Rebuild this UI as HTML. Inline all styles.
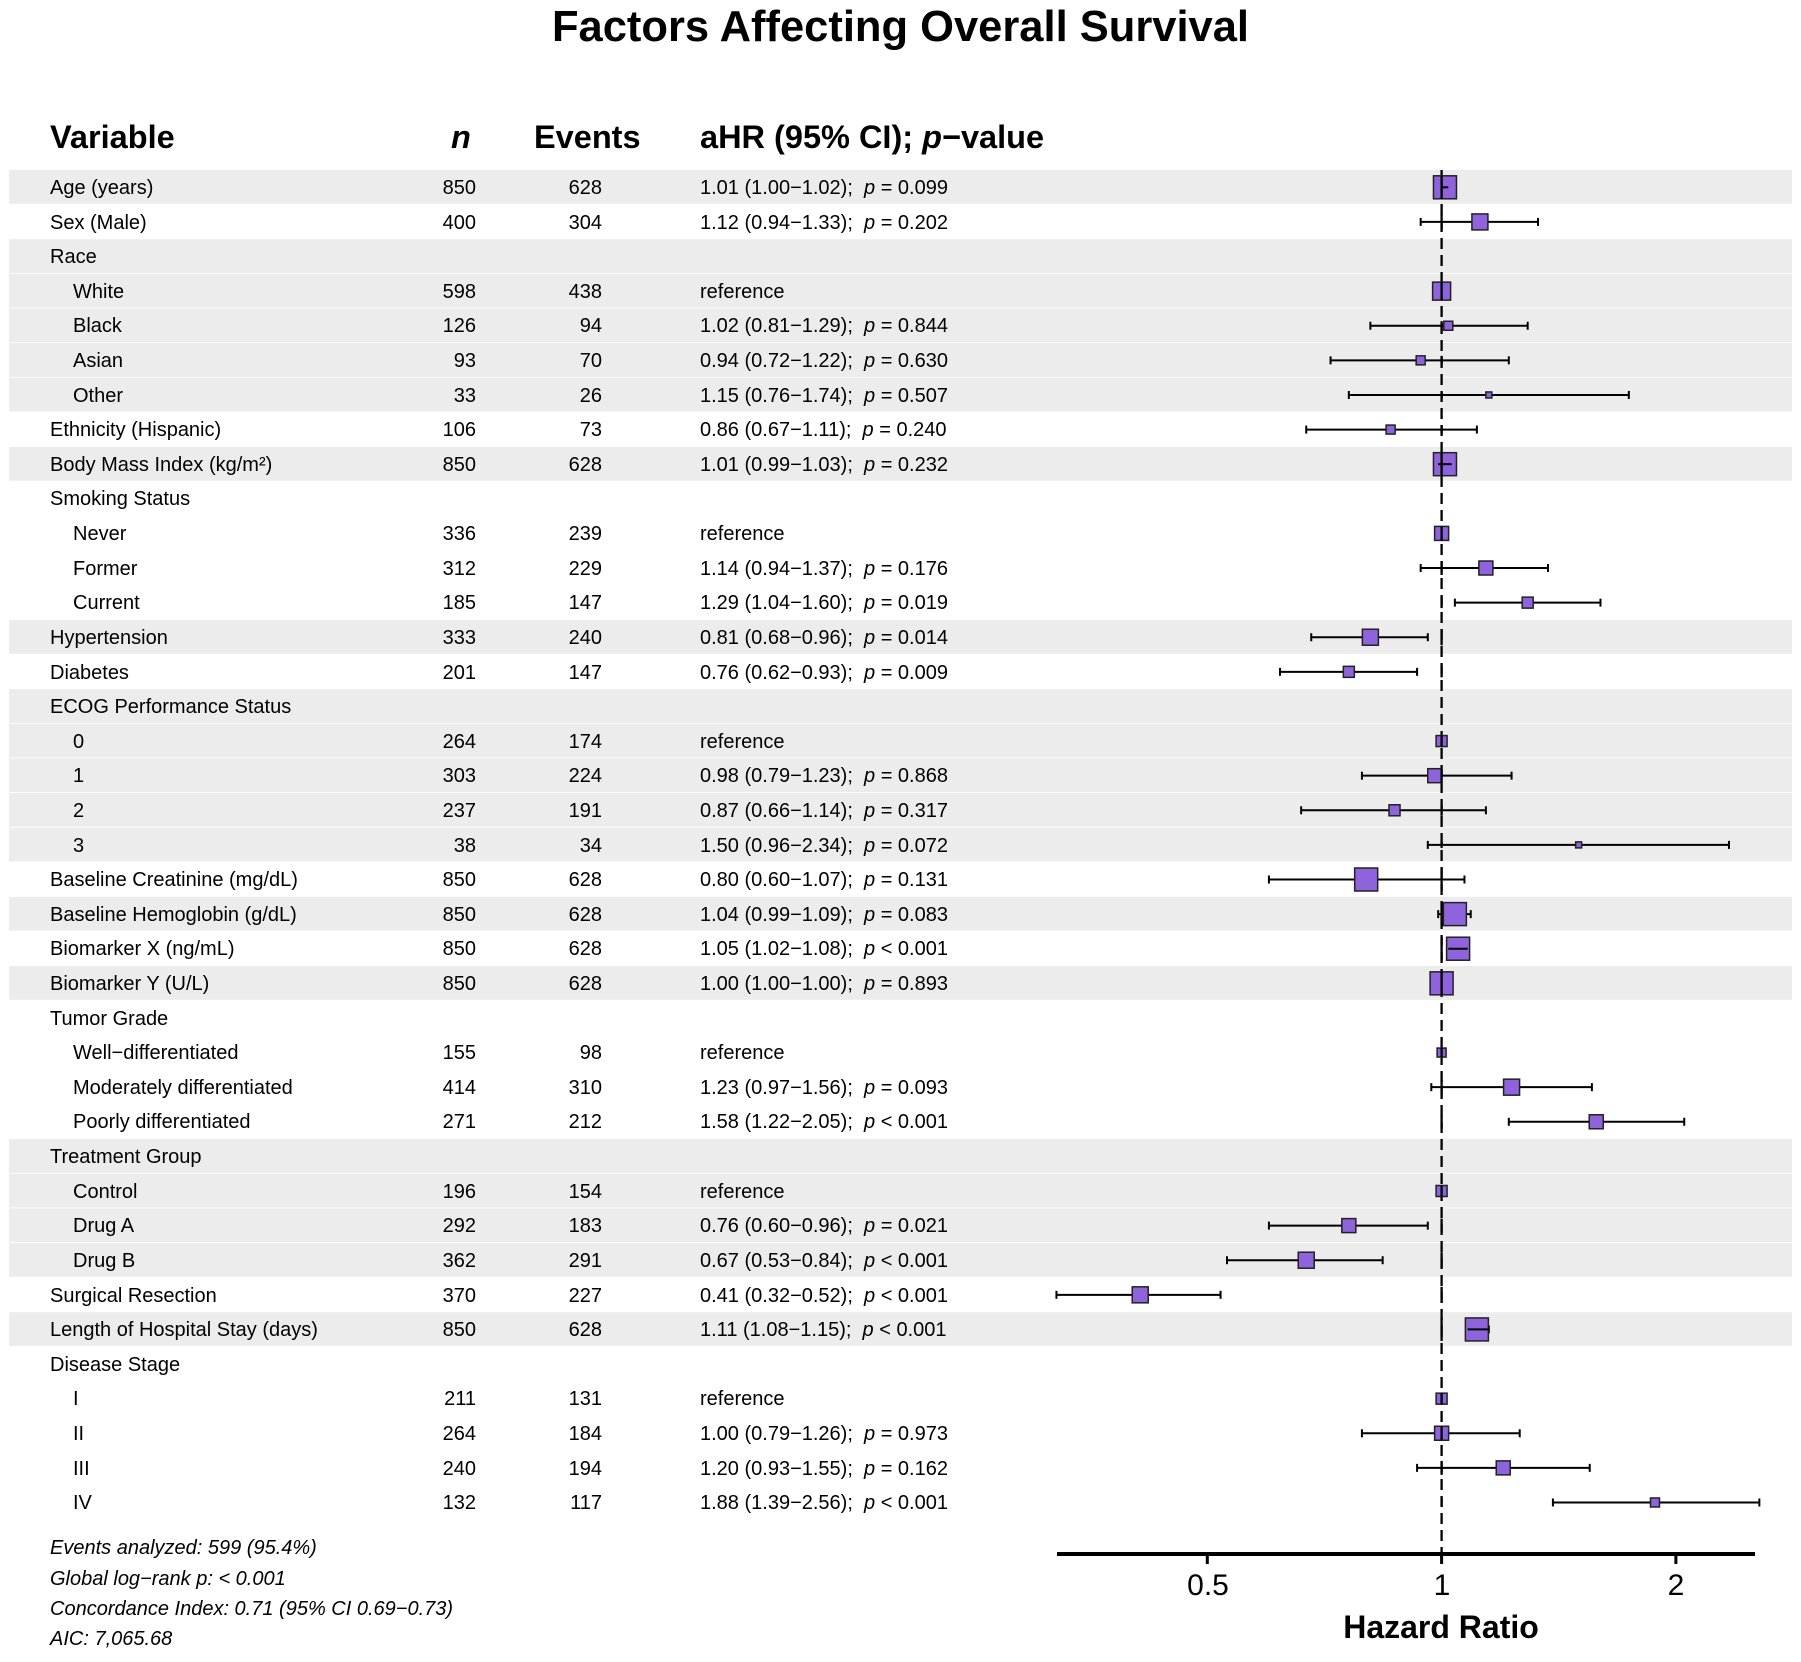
<!DOCTYPE html>
<html><head><meta charset="utf-8"><style>
body{margin:0;width:1801px;height:1662px;background:#fff;position:relative;overflow:hidden;font-family:"Liberation Sans",Arial,sans-serif;color:#000}
.t{position:absolute;white-space:nowrap}
#rows{position:absolute;left:0;top:171px;width:1801px}
.r{height:34.61px;line-height:34.61px;position:relative;font-size:20px}
.r span{position:absolute;top:0}
.v{left:50px}.i{left:73px}
.n{right:1325px;text-align:right}
.e{right:1199px;text-align:right}
.a{left:700px}
.h{font-weight:bold;font-size:32.5px;top:119px}
.f{font-style:italic;font-size:20px;left:50px}
</style></head><body>
<svg id="s" width="1801" height="1662" style="position:absolute;left:0;top:0"></svg>
<div class="t" style="left:0;width:1801px;text-align:center;top:3px;font-size:43.5px;font-weight:bold">Factors Affecting Overall Survival</div>
<div class="t h" style="left:50px">Variable</div>
<div class="t h" style="left:451px;font-style:italic">n</div>
<div class="t h" style="left:534px">Events</div>
<div class="t h" style="left:700px">aHR (95% CI); <i>p</i>−value</div>
<div id="rows">
<div class="r"><span class="v">Age (years)</span><span class="n">850</span><span class="e">628</span><span class="a">1.01 (1.00−1.02);&nbsp; <i>p</i> = 0.099</span></div>
<div class="r"><span class="v">Sex (Male)</span><span class="n">400</span><span class="e">304</span><span class="a">1.12 (0.94−1.33);&nbsp; <i>p</i> = 0.202</span></div>
<div class="r"><span class="v">Race</span></div>
<div class="r"><span class="i">White</span><span class="n">598</span><span class="e">438</span><span class="a">reference</span></div>
<div class="r"><span class="i">Black</span><span class="n">126</span><span class="e">94</span><span class="a">1.02 (0.81−1.29);&nbsp; <i>p</i> = 0.844</span></div>
<div class="r"><span class="i">Asian</span><span class="n">93</span><span class="e">70</span><span class="a">0.94 (0.72−1.22);&nbsp; <i>p</i> = 0.630</span></div>
<div class="r"><span class="i">Other</span><span class="n">33</span><span class="e">26</span><span class="a">1.15 (0.76−1.74);&nbsp; <i>p</i> = 0.507</span></div>
<div class="r"><span class="v">Ethnicity (Hispanic)</span><span class="n">106</span><span class="e">73</span><span class="a">0.86 (0.67−1.11);&nbsp; <i>p</i> = 0.240</span></div>
<div class="r"><span class="v">Body Mass Index (kg/m²)</span><span class="n">850</span><span class="e">628</span><span class="a">1.01 (0.99−1.03);&nbsp; <i>p</i> = 0.232</span></div>
<div class="r"><span class="v">Smoking Status</span></div>
<div class="r"><span class="i">Never</span><span class="n">336</span><span class="e">239</span><span class="a">reference</span></div>
<div class="r"><span class="i">Former</span><span class="n">312</span><span class="e">229</span><span class="a">1.14 (0.94−1.37);&nbsp; <i>p</i> = 0.176</span></div>
<div class="r"><span class="i">Current</span><span class="n">185</span><span class="e">147</span><span class="a">1.29 (1.04−1.60);&nbsp; <i>p</i> = 0.019</span></div>
<div class="r"><span class="v">Hypertension</span><span class="n">333</span><span class="e">240</span><span class="a">0.81 (0.68−0.96);&nbsp; <i>p</i> = 0.014</span></div>
<div class="r"><span class="v">Diabetes</span><span class="n">201</span><span class="e">147</span><span class="a">0.76 (0.62−0.93);&nbsp; <i>p</i> = 0.009</span></div>
<div class="r"><span class="v">ECOG Performance Status</span></div>
<div class="r"><span class="i">0</span><span class="n">264</span><span class="e">174</span><span class="a">reference</span></div>
<div class="r"><span class="i">1</span><span class="n">303</span><span class="e">224</span><span class="a">0.98 (0.79−1.23);&nbsp; <i>p</i> = 0.868</span></div>
<div class="r"><span class="i">2</span><span class="n">237</span><span class="e">191</span><span class="a">0.87 (0.66−1.14);&nbsp; <i>p</i> = 0.317</span></div>
<div class="r"><span class="i">3</span><span class="n">38</span><span class="e">34</span><span class="a">1.50 (0.96−2.34);&nbsp; <i>p</i> = 0.072</span></div>
<div class="r"><span class="v">Baseline Creatinine (mg/dL)</span><span class="n">850</span><span class="e">628</span><span class="a">0.80 (0.60−1.07);&nbsp; <i>p</i> = 0.131</span></div>
<div class="r"><span class="v">Baseline Hemoglobin (g/dL)</span><span class="n">850</span><span class="e">628</span><span class="a">1.04 (0.99−1.09);&nbsp; <i>p</i> = 0.083</span></div>
<div class="r"><span class="v">Biomarker X (ng/mL)</span><span class="n">850</span><span class="e">628</span><span class="a">1.05 (1.02−1.08);&nbsp; <i>p</i> &lt; 0.001</span></div>
<div class="r"><span class="v">Biomarker Y (U/L)</span><span class="n">850</span><span class="e">628</span><span class="a">1.00 (1.00−1.00);&nbsp; <i>p</i> = 0.893</span></div>
<div class="r"><span class="v">Tumor Grade</span></div>
<div class="r"><span class="i">Well−differentiated</span><span class="n">155</span><span class="e">98</span><span class="a">reference</span></div>
<div class="r"><span class="i">Moderately differentiated</span><span class="n">414</span><span class="e">310</span><span class="a">1.23 (0.97−1.56);&nbsp; <i>p</i> = 0.093</span></div>
<div class="r"><span class="i">Poorly differentiated</span><span class="n">271</span><span class="e">212</span><span class="a">1.58 (1.22−2.05);&nbsp; <i>p</i> &lt; 0.001</span></div>
<div class="r"><span class="v">Treatment Group</span></div>
<div class="r"><span class="i">Control</span><span class="n">196</span><span class="e">154</span><span class="a">reference</span></div>
<div class="r"><span class="i">Drug A</span><span class="n">292</span><span class="e">183</span><span class="a">0.76 (0.60−0.96);&nbsp; <i>p</i> = 0.021</span></div>
<div class="r"><span class="i">Drug B</span><span class="n">362</span><span class="e">291</span><span class="a">0.67 (0.53−0.84);&nbsp; <i>p</i> &lt; 0.001</span></div>
<div class="r"><span class="v">Surgical Resection</span><span class="n">370</span><span class="e">227</span><span class="a">0.41 (0.32−0.52);&nbsp; <i>p</i> &lt; 0.001</span></div>
<div class="r"><span class="v">Length of Hospital Stay (days)</span><span class="n">850</span><span class="e">628</span><span class="a">1.11 (1.08−1.15);&nbsp; <i>p</i> &lt; 0.001</span></div>
<div class="r"><span class="v">Disease Stage</span></div>
<div class="r"><span class="i">I</span><span class="n">211</span><span class="e">131</span><span class="a">reference</span></div>
<div class="r"><span class="i">II</span><span class="n">264</span><span class="e">184</span><span class="a">1.00 (0.79−1.26);&nbsp; <i>p</i> = 0.973</span></div>
<div class="r"><span class="i">III</span><span class="n">240</span><span class="e">194</span><span class="a">1.20 (0.93−1.55);&nbsp; <i>p</i> = 0.162</span></div>
<div class="r"><span class="i">IV</span><span class="n">132</span><span class="e">117</span><span class="a">1.88 (1.39−2.56);&nbsp; <i>p</i> &lt; 0.001</span></div>
</div>
<div class="t f" style="top:1537px">Events analyzed: 599 (95.4%)</div>
<div class="t f" style="top:1568px">Global log−rank p: &lt; 0.001</div>
<div class="t f" style="top:1598px">Concordance Index: 0.71 (95% CI 0.69−0.73)</div>
<div class="t f" style="top:1628px">AIC: 7,065.68</div>
<div class="t" style="left:1158px;width:100px;text-align:center;top:1569px;font-size:30px">0.5</div>
<div class="t" style="left:1392px;width:100px;text-align:center;top:1569px;font-size:30px">1</div>
<div class="t" style="left:1626px;width:100px;text-align:center;top:1569px;font-size:30px">2</div>
<div class="t" style="left:1241px;width:400px;text-align:center;top:1609px;font-size:32px;font-weight:bold">Hazard Ratio</div>
<script>
var D=[[1.01,1.00,1.02,23,1],[1.12,.94,1.33,16,0],null,[1,0,0,18,2],[1.02,.81,1.29,9,2],[.94,.72,1.22,9,2],[1.15,.76,1.74,6,2],
[.86,.67,1.11,9,0],[1.01,.99,1.03,23,1],null,[1,0,0,14,0],[1.14,.94,1.37,14,0],[1.29,1.04,1.60,11,0],[.81,.68,.96,16,1],[.76,.62,.93,11,0],
null,[1,0,0,11,2],[.98,.79,1.23,14,2],[.87,.66,1.14,11,2],[1.50,.96,2.34,6,2],[.80,.60,1.07,23,0],[1.04,.99,1.09,23,1],[1.05,1.02,1.08,23,0],[1.00,1.00,1.00,23,1],
null,[1,0,0,9,0],[1.23,.97,1.56,16,0],[1.58,1.22,2.05,14,0],null,[1,0,0,11,2],[.76,.60,.96,14,2],[.67,.53,.84,16,2],[.41,.32,.52,16,0],[1.11,1.08,1.15,23,1],
null,[1,0,0,11,0],[1.00,.79,1.26,14,0],[1.20,.93,1.55,14,0],[1.88,1.39,2.56,9,0]];
var shade=[1,0,1,1,1,1,1,0,1,0,0,0,0,1,0,1,1,1,1,1,0,1,0,1,0,0,0,0,1,1,1,1,0,1,0,0,0,0,0];
var RH=34.61,T=170,X=function(h){return 1441.6+234.3*Math.log2(h)};
var s='';
for(var i=0;i<39;i++){if(shade[i])s+='<rect x="9" y="'+(T+i*RH)+'" width="1783" height="'+(RH-0.8)+'" fill="#ececec"/>';}
s+='<line x1="1441.6" y1="170" x2="1441.6" y2="1554" stroke="#000" stroke-width="2.3" stroke-dasharray="11,6"/>';
for(var i=0;i<39;i++){var d=D[i];if(!d)continue;var y=T+i*RH+RH/2;
if(d[1]>0){var a=X(d[1]),b=X(d[2]);s+='<line x1="'+a+'" y1="'+y+'" x2="'+b+'" y2="'+y+'" stroke="#000" stroke-width="2"/><line x1="'+a+'" y1="'+(y-4)+'" x2="'+a+'" y2="'+(y+4)+'" stroke="#000" stroke-width="2"/><line x1="'+b+'" y1="'+(y-4)+'" x2="'+b+'" y2="'+(y+4)+'" stroke="#000" stroke-width="2"/>';}
var c=X(d[0]),z=d[3];s+='<rect x="'+(c-z/2)+'" y="'+(y-z/2)+'" width="'+z+'" height="'+z+'" fill="#8f63dc" stroke="#222" stroke-width="1.5"/>';
if(d[1]>0&&d[2]-d[1]<0.07){var a=X(d[1]),b=X(d[2]);s+='<line x1="'+a+'" y1="'+y+'" x2="'+b+'" y2="'+y+'" stroke="#000" stroke-width="2"/>';}
s+='<line x1="1441.6" y1="'+(y-z/2)+'" x2="1441.6" y2="'+(y+z/2)+'" stroke="#000" stroke-width="2.3"/>';}
s+='<line x1="1057" y1="1554" x2="1755" y2="1554" stroke="#000" stroke-width="4"/>';
[0.5,1,2].forEach(function(h){var x=X(h);s+='<line x1="'+x+'" y1="1554" x2="'+x+'" y2="1564" stroke="#000" stroke-width="3"/>';});
document.getElementById('s').innerHTML=s;
</script>
</body></html>
